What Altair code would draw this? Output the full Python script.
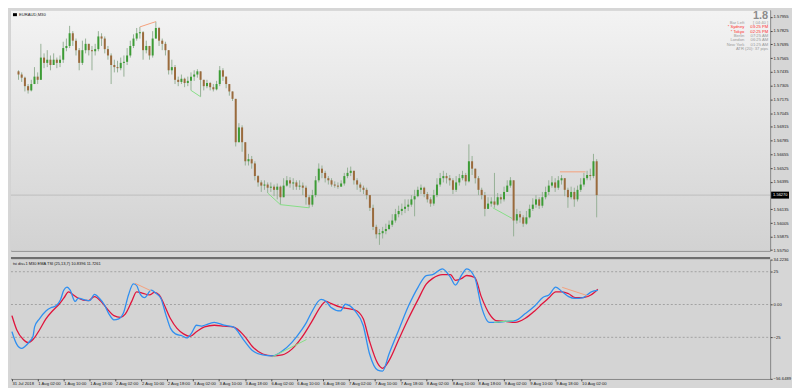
import json
import altair as alt
import pandas as pd

# ---------------- layout ----------------
W, H1, H2 = 764, 242, 120
FONT = "Liberation Sans"

# ---------------- price data (EURAUD, one candle = 2 x M30 bars) ----------------
first_open = 1.5744
closes = [
    1.5741, 1.5738, 1.5730, 1.5726, 1.5732, 1.5739, 1.5736, 1.5757, 1.5752, 1.5755,
    1.5750, 1.5755, 1.5752, 1.5755, 1.5766, 1.5768, 1.5780, 1.5773, 1.5764, 1.5752,
    1.5764, 1.5770, 1.5764, 1.5763, 1.5765, 1.5777, 1.5775, 1.5765, 1.5759, 1.5750,
    1.5748, 1.5747, 1.5752, 1.5753, 1.5759, 1.5768, 1.5775, 1.5780, 1.5781, 1.5764,
    1.5768, 1.5759, 1.5775, 1.5785, 1.5773, 1.5770, 1.5764, 1.5745, 1.5748, 1.5736,
    1.5734, 1.5737, 1.5733, 1.5735, 1.5739, 1.5741, 1.5744, 1.5736, 1.5730, 1.5733,
    1.5729, 1.5727, 1.5732, 1.5745, 1.5739, 1.5732, 1.5725, 1.5718, 1.5677, 1.5691,
    1.5677, 1.5659, 1.5661, 1.5657, 1.5645, 1.5639, 1.5636, 1.5637, 1.5634, 1.5635,
    1.5632, 1.5635, 1.5625, 1.5636, 1.5641, 1.5638, 1.5639, 1.5635, 1.5636, 1.5634,
    1.5625, 1.5618, 1.5627, 1.5641, 1.5652, 1.5648, 1.5643, 1.5641, 1.5637, 1.5636,
    1.5635, 1.5638, 1.5645, 1.5648, 1.5650, 1.5641, 1.5637, 1.5634, 1.5632, 1.5627,
    1.5615, 1.5597, 1.5590, 1.5591, 1.5593, 1.5595, 1.5599, 1.5603, 1.5609, 1.5612,
    1.5614, 1.5616, 1.5618, 1.5623, 1.5626, 1.5632, 1.5634, 1.5628, 1.5623, 1.5619,
    1.5627, 1.5637, 1.5643, 1.5645, 1.5643, 1.5641, 1.5632, 1.5639, 1.5643, 1.5646,
    1.5640, 1.5659, 1.5652, 1.5643, 1.5632, 1.5627, 1.5614, 1.5619, 1.5621, 1.5618,
    1.5625, 1.5623, 1.5630, 1.5636, 1.5641, 1.5603, 1.5609, 1.5606, 1.5600, 1.5606,
    1.5614, 1.5618, 1.5623, 1.5617, 1.5625, 1.5630, 1.5636, 1.5639, 1.5634, 1.5641,
    1.5643, 1.5632, 1.5625, 1.5630, 1.5623, 1.5632, 1.5637, 1.5643, 1.5646, 1.5645,
    1.5659, 1.5627,
]
highs = [
    1.5745, 1.5743, 1.5739, 1.5732, 1.5736, 1.5748, 1.5743, 1.5770, 1.5761, 1.5764,
    1.5759, 1.5761, 1.5757, 1.5759, 1.5772, 1.5775, 1.5787, 1.5782, 1.5775, 1.5766,
    1.5773, 1.5775, 1.5770, 1.5768, 1.5770, 1.5782, 1.5780, 1.5777, 1.5768, 1.5761,
    1.5755, 1.5754, 1.5757, 1.5759, 1.5766, 1.5773, 1.5779, 1.5785, 1.5786, 1.5782,
    1.5773, 1.5768, 1.5782, 1.5791, 1.5786, 1.5775, 1.5772, 1.5764, 1.5755, 1.5750,
    1.5739, 1.5741, 1.5738, 1.5739, 1.5743, 1.5745, 1.5746, 1.5743, 1.5736, 1.5736,
    1.5734, 1.5732, 1.5735, 1.5749, 1.5747, 1.5738, 1.5732, 1.5725, 1.5718, 1.5695,
    1.5693, 1.5677, 1.5666, 1.5664, 1.5659, 1.5646, 1.5641, 1.5641, 1.5639, 1.5639,
    1.5637, 1.5638, 1.5636, 1.5643, 1.5645, 1.5644, 1.5643, 1.5641, 1.5641, 1.5639,
    1.5636, 1.5627, 1.5632, 1.5645, 1.5657, 1.5655, 1.5650, 1.5645, 1.5643, 1.5640,
    1.5639, 1.5641, 1.5648, 1.5653, 1.5654, 1.5650, 1.5643, 1.5639, 1.5636, 1.5634,
    1.5627, 1.5618, 1.5599, 1.5595, 1.5597, 1.5600, 1.5603, 1.5609, 1.5614, 1.5617,
    1.5619, 1.5623, 1.5623, 1.5627, 1.5632, 1.5635, 1.5637, 1.5635, 1.5630, 1.5625,
    1.5632, 1.5643, 1.5648, 1.5650, 1.5648, 1.5646, 1.5643, 1.5645, 1.5647, 1.5650,
    1.5648, 1.5675, 1.5664, 1.5652, 1.5645, 1.5634, 1.5630, 1.5625, 1.5625, 1.5648,
    1.5629, 1.5628, 1.5635, 1.5641, 1.5644, 1.5641, 1.5614, 1.5612, 1.5608, 1.5612,
    1.5618, 1.5624, 1.5627, 1.5625, 1.5630, 1.5635, 1.5641, 1.5645, 1.5643, 1.5645,
    1.5646, 1.5643, 1.5634, 1.5635, 1.5634, 1.5636, 1.5643, 1.5648, 1.5650, 1.5652,
    1.5666, 1.5661,
]
lows = [
    1.5736, 1.5734, 1.5725, 1.5723, 1.5725, 1.5734, 1.5732, 1.5739, 1.5747, 1.5748,
    1.5745, 1.5750, 1.5747, 1.5748, 1.5752, 1.5763, 1.5766, 1.5768, 1.5759, 1.5745,
    1.5750, 1.5761, 1.5759, 1.5745, 1.5759, 1.5763, 1.5768, 1.5761, 1.5755, 1.5732,
    1.5743, 1.5743, 1.5745, 1.5739, 1.5750, 1.5757, 1.5766, 1.5773, 1.5775, 1.5755,
    1.5761, 1.5755, 1.5757, 1.5775, 1.5768, 1.5764, 1.5759, 1.5741, 1.5741, 1.5732,
    1.5730, 1.5732, 1.5729, 1.5730, 1.5726, 1.5735, 1.5738, 1.5720, 1.5726, 1.5728,
    1.5726, 1.5725, 1.5726, 1.5730, 1.5735, 1.5728, 1.5721, 1.5716, 1.5673, 1.5677,
    1.5668, 1.5655, 1.5655, 1.5652, 1.5641, 1.5635, 1.5630, 1.5632, 1.5629, 1.5630,
    1.5626, 1.5623, 1.5618, 1.5625, 1.5635, 1.5634, 1.5632, 1.5632, 1.5632, 1.5627,
    1.5618, 1.5615, 1.5616, 1.5625, 1.5639, 1.5643, 1.5639, 1.5637, 1.5635, 1.5634,
    1.5633, 1.5635, 1.5636, 1.5643, 1.5645, 1.5637, 1.5632, 1.5630, 1.5628, 1.5623,
    1.5612, 1.5594, 1.5586, 1.5580, 1.5586, 1.5590, 1.5594, 1.5597, 1.5601, 1.5606,
    1.5608, 1.5610, 1.5612, 1.5616, 1.5607, 1.5625, 1.5628, 1.5625, 1.5620, 1.5616,
    1.5617, 1.5625, 1.5635, 1.5639, 1.5638, 1.5636, 1.5628, 1.5630, 1.5636, 1.5641,
    1.5636, 1.5639, 1.5646, 1.5638, 1.5627, 1.5623, 1.5607, 1.5614, 1.5616, 1.5615,
    1.5617, 1.5619, 1.5621, 1.5630, 1.5634, 1.5588, 1.5600, 1.5601, 1.5597, 1.5599,
    1.5605, 1.5612, 1.5615, 1.5614, 1.5615, 1.5623, 1.5627, 1.5634, 1.5630, 1.5632,
    1.5637, 1.5626, 1.5615, 1.5623, 1.5616, 1.5621, 1.5630, 1.5635, 1.5641, 1.5641,
    1.5643, 1.5606,
]
bars_per_candle = 2
current_price = 1.56270
price_ticks = [1.57955, 1.57825, 1.57695, 1.57565, 1.57435, 1.57305, 1.57175,
               1.57045, 1.56915, 1.56785, 1.56655, 1.56525, 1.56395, 1.56135,
               1.56005, 1.55875, 1.55750]

# ---------------- time axis ----------------
time_labels = ["31 Jul 2018", "1 Aug 02:00", "1 Aug 10:00", "1 Aug 18:00",
               "2 Aug 02:00", "2 Aug 10:00", "2 Aug 18:00", "3 Aug 02:00",
               "3 Aug 10:00", "3 Aug 18:00", "6 Aug 02:00", "6 Aug 10:00",
               "6 Aug 18:00", "7 Aug 02:00", "7 Aug 10:00", "7 Aug 18:00",
               "8 Aug 02:00", "8 Aug 10:00", "8 Aug 18:00", "9 Aug 02:00",
               "9 Aug 10:00", "9 Aug 18:00", "10 Aug 02:00"]
bars_per_label = 16

# ---------------- TSI indicator ----------------
tsi_bar = [0, 3, 6, 8, 11, 13, 14, 17, 21, 24, 27, 30, 32, 34, 36, 39, 41, 45, 48, 51,
           54, 57, 60, 63, 66, 69, 72, 75, 77, 79, 82, 86, 89, 92, 95, 98, 101, 105, 108, 111,
           114, 117, 119, 125, 131, 137, 143, 149, 155, 161, 167, 173, 179, 182, 185, 191, 194, 197, 203, 206,
           212, 217, 221, 226, 229, 233, 239, 245, 251, 256, 260, 266, 271, 274, 278, 281, 286, 290, 295, 299,
           305, 311, 317, 323, 328, 332, 336, 340, 344, 348, 353, 358, 362]
tsi_val = [-20.7, -30.4, -33.5, -32.0, -28.0, -24.3, -17.0, -10.9, -4.9, -2.5,
           -1.2, 3.6, 10.9, 13.3, 10.9, 2.4, 4.8, 3.6, 2.9, 7.7,
           4.8, 0.0, -7.3, -11.7, -10.9, -6.1, 7.3, 15.7, 14.6, 8.5,
           5.3, 10.9, 8.5, 4.8, -7.3, -18.2, -22.4, -23.8, -25.5, -21.8,
           -15.8, -16.5, -15.8, -13.6, -15.8, -17.3, -26.7, -35.5, -38.4, -39.1,
           -35.5, -28.9, -19.4, -13.6, -6.3, 3.9, 2.4, -2.0, -4.9, 0.2,
           -4.9, -15.8, -37.7, -50.0, -50.8, -37.7, -19.4, -1.2, 13.3, 22.1,
           22.8, 27.2, 20.6, 14.8, 22.8, 27.2, 20.6, -1.2, -13.6, -13.6,
           -12.9, -12.2, -7.1, -1.2, 5.3, 7.5, 13.3, 9.7, 6.0, 4.6,
           5.3, 9.7, 10.8]
sig_bar = [0, 3, 7, 10, 13, 17, 21, 25, 29, 32, 35, 38, 41, 47, 51, 55, 59, 63, 67, 70,
           74, 77, 81, 85, 88, 91, 94, 98, 102, 106, 110, 114, 119, 125, 131, 137, 143, 149, 155, 161,
           167, 173, 179, 185, 191, 194, 197, 203, 206, 212, 217, 221, 226, 229, 233, 239, 245, 251, 256, 260,
           266, 271, 274, 278, 281, 286, 290, 295, 299, 305, 311, 317, 323, 328, 332, 336, 340, 344, 348, 353,
           358, 362]
sig_val = [-8.5, -19.4, -26.7, -29.1, -26.7, -19.4, -10.9, -4.9, 0.0, 4.8,
           9.7, 7.3, 4.8, 2.9, 6.0, 2.4, -3.6, -8.5, -9.8, -7.3,
           2.4, 9.7, 8.5, 7.3, 9.2, 7.3, 0.0, -10.9, -18.2, -22.4,
           -24.3, -20.7, -17.0, -15.8, -16.5, -17.3, -23.1, -32.6, -37.7, -39.1,
           -38.4, -34.0, -25.3, -13.6, -1.2, 2.4, 0.9, -2.0, -2.7, -4.2,
           -10.7, -28.2, -44.9, -48.6, -42.8, -26.7, -10.7, 3.9, 15.5, 19.9,
           22.8, 22.8, 18.4, 19.9, 22.1, 20.6, 6.0, -7.1, -12.2, -12.9,
           -13.6, -10.7, -4.9, 0.9, 5.3, 9.7, 9.7, 8.2, 5.3, 5.3,
           7.5, 11.7]
ind_ticks = [34.2236, 25, 0, -25, -56.6489]
ind_levels = [25, 0, -25]

# ---------------- divergence lines ----------------
pdiv_b1 = [77, 109, 157, 165, 298, 340]
pdiv_b2 = [87, 115, 165, 183, 310, 356]
pdiv_p1 = [1.5786, 1.5726, 1.5629, 1.5618, 1.5615, 1.5649]
pdiv_p2 = [1.5791, 1.5720, 1.5618, 1.5615, 1.5605, 1.5649]
pdiv_kind = ["bear", "bull", "bull", "bull", "bull", "bear"]
idiv_b1 = [76, 161, 298, 340]
idiv_b2 = [86, 182, 310, 356]
idiv_v1 = [16.2, -39.8, -13.6, 13.1]
idiv_v2 = [10.4, -26.7, -12.2, 6.6]
idiv_kind = ["bear", "bull", "bull", "bear"]

# ---------------- info panel ----------------
spread_text = "1.8"
info_rows = [("Bar Left", "[ 04:40 ]", "#9a9a9a"),
             ("* Sydney", "03:25 PM", "#ff2a2a"),
             ("* Tokyo", "02:25 PM", "#ff2a2a"),
             ("Berlin", "07:25 AM", "#9a9a9a"),
             ("London", "06:25 AM", "#9a9a9a"),
             ("New York", "01:25 AM", "#9a9a9a")]
atr_text = "ATR (20): 37 pips"
symbol_text = "EURAUD,M30"
ind_title = "tsi div+1 M30 EMA TSI (25,13,7) 10.8396 11.7261"

# ---------------- build tables ----------------
n = len(closes)
opens = [first_open] + closes[:-1]
cd = pd.DataFrame({"bar": [bars_per_candle * k + 1 for k in range(n)],
                   "o": opens, "c": closes, "h": highs, "l": lows})
cd["hi"] = cd[["h", "o", "c"]].max(axis=1)
cd["lo"] = cd[["l", "o", "c"]].min(axis=1)

div_colors = {"bear": "#f5a07c", "bull": "#86df86"}
pdiv = pd.DataFrame({"b1": pdiv_b1, "b2": pdiv_b2, "p1": pdiv_p1, "p2": pdiv_p2,
                     "col": [div_colors[k] for k in pdiv_kind]})
idiv = pd.DataFrame({"b1": idiv_b1, "b2": idiv_b2, "v1": idiv_v1, "v2": idiv_v2,
                     "col": [div_colors[k] for k in idiv_kind]})
tsi_df = pd.DataFrame({"bar": tsi_bar, "v": tsi_val})
sig_df = pd.DataFrame({"bar": sig_bar, "v": sig_val})
lvl_df = pd.DataFrame({"v": ind_levels})
cur_df = pd.DataFrame({"p": [current_price], "t": [f"{current_price:.5f}"]})
one = pd.DataFrame({"a": [0]})

xs = alt.Scale(domain=[-0.6, 468.5], nice=False, zero=False)
ys = alt.Scale(domain=[1.55745, 1.58018], nice=False, zero=False)
iscale = alt.Scale(domain=[-56.6489, 34.2236], nice=False, zero=False)

price_axis = alt.Axis(orient="right", values=price_ticks, format=".5f", title=None,
                      tickSize=2, labelPadding=1, grid=False, domain=False)
x_axis = alt.Axis(values=[bars_per_label * i for i in range(len(time_labels))],
                  labelExpr=f"{json.dumps(time_labels)}[round(datum.value / {bars_per_label})]",
                  labelAlign="left", labelBaseline="top", labelPadding=1, tickSize=2, title=None,
                  grid=False, domain=False, labelOverlap=False, labelFlush=False)
ind_axis = alt.Axis(orient="right", values=ind_ticks, tickSize=2, labelPadding=1, grid=False,
                    domain=False, title=None,
                    labelExpr="datum.value == 0 ? '0.00' : (abs(datum.value) == 25 ? format(datum.value, 'd') : format(datum.value, '.4f'))")


def PX(f):
    return alt.X(f, type="quantitative", scale=xs, axis=None)


def PY(f):
    return alt.Y(f, type="quantitative", scale=ys, axis=price_axis)


def IX(f):
    return alt.X(f, type="quantitative", scale=xs, axis=x_axis)


def IY(f):
    return alt.Y(f, type="quantitative", scale=iscale, axis=ind_axis)


# ---------------- top panel ----------------
bg1 = alt.Chart(one).mark_rect(color={
    "gradient": "linear", "x1": 0, "y1": 0, "x2": 0, "y2": 1,
    "stops": [{"offset": 0, "color": "#f3f3f3"}, {"offset": 1, "color": "#d2d2d2"}]}
).encode(x=alt.value(0), x2=alt.value(W), y=alt.value(0), y2=alt.value(H1))

cur_line = alt.Chart(cur_df).mark_rule(color="#bdbdbd", strokeWidth=1).encode(
    y=PY("p"), x=alt.value(0), x2=alt.value(W))

wicks = alt.Chart(cd).mark_rule(color="#96b096", strokeWidth=1).encode(
    x=PX("bar"), y=PY("lo"), y2="hi:Q")

bodies = alt.Chart(cd).mark_bar(size=2).encode(
    x=PX("bar"), y=PY("o"), y2="c:Q",
    color=alt.condition("datum.c >= datum.o", alt.value("#3c9c35"), alt.value("#9a6a3c")))

pdiv_l = alt.Chart(pdiv).mark_rule(strokeWidth=1).encode(
    x=PX("b1"), x2="b2:Q", y=PY("p1"), y2="p2:Q",
    color=alt.Color("col:N", scale=None))

tag_rect = alt.Chart(cur_df).mark_rect(color="#000000", yOffset=-3.5, y2Offset=3.5).encode(
    x=alt.value(W + 1), x2=alt.value(W + 19), y=PY("p"), y2="p:Q")
tag_text = alt.Chart(cur_df).mark_text(align="left", baseline="middle", fontSize=4,
                                       font=FONT, color="#ffffff").encode(
    x=alt.value(W + 3), y=PY("p"), text="t:N")


def txt(s, x, y, size=4, color="#222222", align="left", weight="normal"):
    return alt.Chart(one).mark_text(text=s, align=align, baseline="middle", fontSize=size,
                                    font=FONT, color=color, fontWeight=weight).encode(
        x=alt.value(x), y=alt.value(y))


icon = alt.Chart(one).mark_rect(color="#000000").encode(
    x=alt.value(2), x2=alt.value(6), y=alt.value(3), y2=alt.value(6))
top_texts = [icon, txt(symbol_text, 8, 4.5, 4.2),
             txt(spread_text, W - 2, 5.5, 11, "#8c8c8c", "right", "bold")]
row_y = [12.6, 17.2, 21.6, 26.0, 30.4, 34.9]
for (lab, val, col), yy in zip(info_rows, row_y):
    top_texts.append(txt(lab, W - 26, yy, 4.2, col, "right"))
    top_texts.append(txt(val, W - 2, yy, 4.2, col, "right"))
top_texts.append(txt(atr_text, W - 2, 39.5, 4.2, "#9a9a9a", "right"))

top = alt.layer(bg1, cur_line, wicks, bodies, pdiv_l, tag_rect, tag_text,
                *top_texts).properties(width=W, height=H1)

# ---------------- bottom panel ----------------
bg2 = alt.Chart(one).mark_rect(color="#d4d4d4").encode(
    x=alt.value(0), x2=alt.value(W), y=alt.value(0), y2=alt.value(H2))
sep = alt.Chart(one).mark_rule(color="#6e6e6e", strokeWidth=2).encode(
    x=alt.value(0), x2=alt.value(W), y=alt.value(-1.5))
levels = alt.Chart(lvl_df).mark_rule(color="#a2a2a2", strokeWidth=1, strokeDash=[2, 2]).encode(
    y=IY("v"), x=alt.value(0), x2=alt.value(W))

tsi_l = alt.Chart(tsi_df).mark_line(color="#2f8ff0", strokeWidth=1.3, interpolate="monotone").encode(
    x=IX("bar"), y=IY("v"))
sig_l = alt.Chart(sig_df).mark_line(color="#e0143c", strokeWidth=1.3, interpolate="monotone").encode(
    x=IX("bar"), y=IY("v"))
idiv_l = alt.Chart(idiv).mark_rule(strokeWidth=1).encode(
    x=IX("b1"), x2="b2:Q", y=IY("v1"), y2="v2:Q",
    color=alt.Color("col:N", scale=None))

bottom = alt.layer(bg2, levels, sig_l, tsi_l, idiv_l, sep,
                   txt(ind_title, 2, 4, 4.0, "#111111")).properties(width=W, height=H2)

chart = alt.vconcat(top, bottom, spacing=3).properties(
    padding=0, background="#d6d6d6"
).configure_view(stroke="#7a7a7a", strokeWidth=1).configure_axis(
    labelFont=FONT, labelFontSize=4.2, labelColor="#1a1a1a", tickColor="#444444"
)

chart.save("out.html", embed_options={"renderer": "svg", "actions": False})
